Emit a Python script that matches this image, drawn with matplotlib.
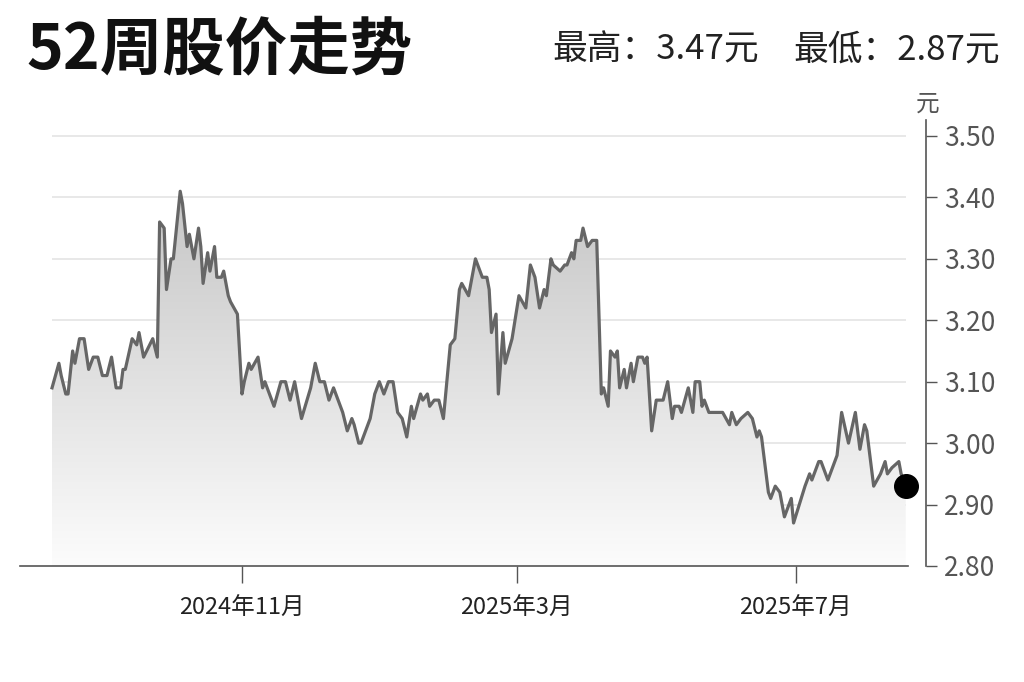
import numpy as np
import matplotlib
matplotlib.use("Agg")
from matplotlib import pyplot as plt
import matplotlib.colors as mcolors

plt.rcParams['font.family'] = ['Noto Sans CJK SC', 'DejaVu Sans']

# days counted from 2024-11-01, closing price in yuan
base_date = np.datetime64('2024-11-01')
days = [
    -83, -80, -79, -77, -76, -74, -73, -71, -69, -67, -65, -63, -61, -59, -57, -55, -53, -52, -51, -48,
    -46, -45, -43, -39, -37, -36, -34, -33, -31, -30, -27, -26, -24, -23, -21, -19, -18, -17, -15, -14,
    -12, -11, -9, -8, -6, -5, -2, 0, 1, 3, 4, 7, 9, 10, 12, 14, 17, 19, 21, 23,
    26, 30, 32, 34, 36, 38, 40, 41, 43, 44, 46, 48, 49, 51, 52, 55, 56, 58, 60, 62,
    64, 66, 68, 70, 72, 74, 75, 78, 79, 81, 82, 84, 86, 88, 90, 91, 93, 95, 96, 99,
    102, 103, 105, 107, 108, 109, 111, 112, 114, 115, 118, 121, 124, 126, 128, 130, 132, 133, 135, 136,
    139, 141, 142, 144, 145, 146, 148, 149, 151, 153, 155, 157, 158, 160, 161, 163, 164, 165, 167, 168,
    170, 171, 173, 175, 176, 177, 179, 181, 184, 186, 188, 189, 191, 192, 195, 197, 198, 200, 201, 202,
    204, 210, 213, 214, 216, 218, 221, 223, 225, 226, 227, 230, 231, 233, 235, 237, 240, 241, 246, 248,
    249, 252, 253, 256, 260, 262, 265, 268, 270, 272, 273, 276, 279, 281, 282, 284, 287, 288, 290,
]
prices = [
    3.09, 3.13, 3.11, 3.08, 3.08, 3.15, 3.13, 3.17, 3.17, 3.12, 3.14, 3.14, 3.11, 3.11, 3.14, 3.09, 3.09, 3.12, 3.12, 3.17,
    3.16, 3.18, 3.14, 3.17, 3.14, 3.36, 3.35, 3.25, 3.30, 3.30, 3.41, 3.39, 3.32, 3.34, 3.30, 3.35, 3.32, 3.26, 3.31, 3.28,
    3.32, 3.27, 3.27, 3.28, 3.24, 3.23, 3.21, 3.08, 3.10, 3.13, 3.12, 3.14, 3.09, 3.10, 3.08, 3.06, 3.10, 3.10, 3.07, 3.10,
    3.04, 3.09, 3.13, 3.10, 3.10, 3.07, 3.09, 3.08, 3.06, 3.05, 3.02, 3.04, 3.03, 3.00, 3.00, 3.03, 3.04, 3.08, 3.10, 3.08,
    3.10, 3.10, 3.05, 3.04, 3.01, 3.06, 3.04, 3.08, 3.07, 3.08, 3.06, 3.07, 3.07, 3.04, 3.12, 3.16, 3.17, 3.25, 3.26, 3.24,
    3.30, 3.29, 3.27, 3.27, 3.25, 3.18, 3.21, 3.08, 3.18, 3.13, 3.17, 3.24, 3.22, 3.29, 3.27, 3.22, 3.25, 3.24, 3.30, 3.29,
    3.28, 3.29, 3.29, 3.31, 3.30, 3.33, 3.33, 3.35, 3.32, 3.33, 3.33, 3.08, 3.09, 3.06, 3.15, 3.14, 3.15, 3.09, 3.12, 3.09,
    3.13, 3.10, 3.14, 3.14, 3.13, 3.14, 3.02, 3.07, 3.07, 3.10, 3.04, 3.06, 3.06, 3.05, 3.09, 3.05, 3.10, 3.10, 3.06, 3.07,
    3.05, 3.05, 3.03, 3.05, 3.03, 3.04, 3.05, 3.04, 3.01, 3.02, 3.01, 2.92, 2.91, 2.93, 2.92, 2.88, 2.91, 2.87, 2.93, 2.95,
    2.94, 2.97, 2.97, 2.94, 2.98, 3.05, 3.00, 3.05, 2.99, 3.03, 3.02, 2.93, 2.95, 2.97, 2.95, 2.96, 2.97, 2.95, 2.93,
]
tick_days = [0, 120, 242]
tick_labels = ['2024年11月', '2025年3月', '2025年7月']
y_ticks = [2.80, 2.90, 3.00, 3.10, 3.20, 3.30, 3.40, 3.50]
title = '52周股价走势'
high_text = '最高：3.47元'
low_text = '最低：2.87元'

dates = base_date + np.array(days).astype('timedelta64[D]')
ticks = base_date + np.array(tick_days).astype('timedelta64[D]')

fig = plt.figure(figsize=(10.24, 6.82), dpi=100)
ax = fig.add_axes([20 / 1024, 116 / 682, 888 / 1024, 446 / 682])

ymin, ymax = 2.80, 3.526
xmin = base_date - np.timedelta64(97, 'D')
xmax = base_date + np.timedelta64(291, 'D')

# grid lines only across the data span
for yv in y_ticks[1:]:
    ax.hlines(yv, dates[0], dates[-1], color='#e6e6e6', lw=1.3, zorder=1)

# gray gradient under the line
poly = ax.fill_between(dates, prices, ymin, color='none', lw=0)
cmap = mcolors.LinearSegmentedColormap.from_list('g', ['#fcfcfc', '#c6c6c6'])
grad = np.linspace(0, 1, 256).reshape(-1, 1)
top = max(prices)
im = ax.imshow(grad, cmap=cmap, origin='lower', aspect='auto', zorder=2,
               extent=[matplotlib.dates.date2num(dates[0]), matplotlib.dates.date2num(dates[-1]), ymin, top])
im.set_clip_path(poly.get_paths()[0], transform=ax.transData)

ax.plot(dates, prices, color='#666666', lw=2.3, zorder=3, solid_joinstyle='round')
ax.plot(dates[-1], prices[-1], 'o', color='black', markersize=17, zorder=4, clip_on=False)

ax.set_xlim(xmin, xmax)
ax.set_ylim(ymin, ymax)

for s in ['top', 'left']:
    ax.spines[s].set_visible(False)
ax.spines['bottom'].set_color('#555555')
ax.spines['bottom'].set_linewidth(1.2)
ax.spines['right'].set_color('#555555')
ax.spines['right'].set_linewidth(1.2)
ax.spines['right'].set_position(('outward', 13))

ax.set_xticks(ticks)
ax.set_xticklabels(tick_labels)
ax.tick_params(axis='x', direction='out', length=12, width=1, color='#555555',
               labelsize=17, labelcolor='#222222', pad=10)
ax.yaxis.tick_right()
ax.set_yticks(y_ticks)
ax.set_yticklabels(['%.2f' % v for v in y_ticks])
ax.tick_params(axis='y', direction='out', length=8, width=1, color='#555555',
               labelsize=19, labelcolor='#555555', pad=5)
ax.text(1.0225, 1.01, '元', transform=ax.transAxes, ha='center', va='bottom', fontsize=17, color='#555555')

fig.text(26 / 1024, 1 - 50 / 682, title, ha='left', va='center', fontsize=45,
         fontweight='bold', color='#111111')
fig.text(552 / 1024, 1 - 50 / 682, high_text, ha='left', va='center', fontsize=25, color='#222222')
fig.text(1000 / 1024, 1 - 50 / 682, low_text, ha='right', va='center', fontsize=25, color='#222222')

fig.savefig('out.png', dpi=100)
